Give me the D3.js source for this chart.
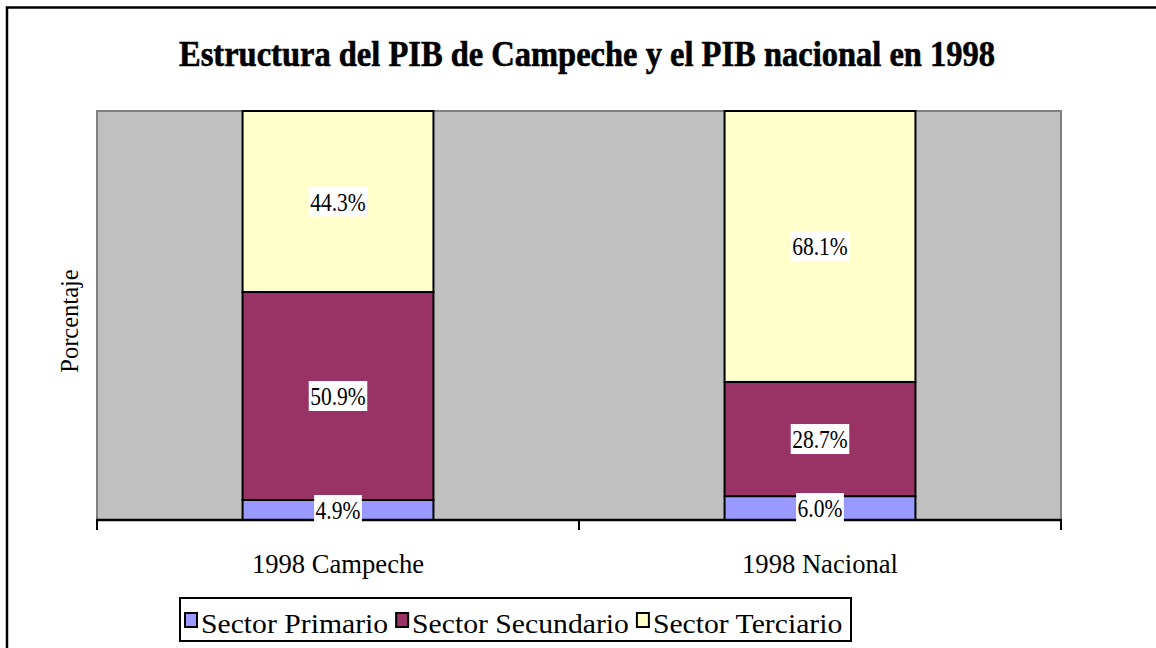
<!DOCTYPE html>
<html><head><meta charset="utf-8">
<script src="https://cdn.jsdelivr.net/npm/d3@7"></script>
<style>body{margin:0;background:#fff}svg{display:block}text{font-family:"Liberation Serif","Times New Roman",serif}</style>
</head><body><svg id="c" width="1156" height="648"></svg>
<script>
const categories = ["1998 Campeche", "1998 Nacional"];
const seriesNames = ["Sector Primario", "Sector Secundario", "Sector Terciario"];
const primario = [4.9, 6.0];
const secundario = [50.9, 28.7];
const terciario = [44.3, 68.1];
const colors = ["#9999FF", "#993366", "#FFFFCC"];
const title = "Estructura del PIB de Campeche y el PIB nacional en 1998";
const yTitle = "Porcentaje";

const rows = categories.map((c, i) => ({cat: c, "Sector Primario": primario[i], "Sector Secundario": secundario[i], "Sector Terciario": terciario[i]}));
const stack = d3.stack().keys(seriesNames).offset(d3.stackOffsetExpand)(rows);

const svg = d3.select("#c");
const L = 97, R = 1061, T = 111, B = 520;

function fit(sel, f) {
  sel.each(function(){ const w = this.getComputedTextLength(); d3.select(this).attr("textLength", w * f).attr("lengthAdjust", "spacingAndGlyphs"); });
}

// outer border
svg.append("rect").attr("x", 7).attr("y", 7.5).attr("width", 1170).attr("height", 680)
  .attr("fill", "none").attr("stroke", "#000").attr("stroke-width", 2.5);

// title
svg.append("text").attr("x", 587).attr("y", 66).attr("text-anchor", "middle")
  .attr("font-size", 35).attr("font-weight", "bold").attr("stroke", "#000").attr("stroke-width", 0.6).text(title)
  .attr("textLength", 816).attr("lengthAdjust", "spacingAndGlyphs");

const x = d3.scaleBand().domain(categories).range([L, R]).paddingInner(0.604).paddingOuter(0.302);
const y = d3.scaleLinear().domain([0, 1]).range([B, T]);

// plot area
svg.append("rect").attr("x", L).attr("y", T).attr("width", R - L).attr("height", B - T)
  .attr("fill", "#C0C0C0").attr("stroke", "#808080").attr("stroke-width", 2);

// bars
const g = svg.append("g");
stack.forEach((s, si) => {
  g.selectAll(null).data(s).join("rect")
    .attr("x", d => x(d.data.cat)).attr("width", x.bandwidth())
    .attr("y", d => y(d[1])).attr("height", d => y(d[0]) - y(d[1]))
    .attr("fill", colors[si]).attr("stroke", "#000").attr("stroke-width", 2);
});

// axis
const ax = svg.append("g").attr("transform", `translate(0,${B})`);
const xe = d3.scaleLinear().domain([0, categories.length]).range([L, R]);
ax.append("line").attr("x1", L - 1).attr("x2", R + 1).attr("stroke", "#000").attr("stroke-width", 2.5);
ax.selectAll(null).data(d3.range(categories.length + 1)).join("line")
  .attr("x1", d => xe(d)).attr("x2", d => xe(d)).attr("y1", 0).attr("y2", 10)
  .attr("stroke", "#000").attr("stroke-width", 2);
ax.selectAll(null).data(categories).join("text")
  .attr("x", d => x(d) + x.bandwidth() / 2).attr("y", 53).attr("text-anchor", "middle")
  .attr("font-size", 28).text(d => d).call(fit, 0.95);

// data labels
const lab = svg.append("g");
stack.forEach((s, si) => {
  s.forEach((d, i) => {
    const v = [primario, secundario, terciario][si][i];
    const cx = x(d.data.cat) + x.bandwidth() / 2;
    const cy = (y(d[0]) + y(d[1])) / 2;
    const gg = lab.append("g");
    const t = gg.append("text").attr("x", cx).attr("y", cy + 9).attr("text-anchor", "middle")
      .attr("font-size", 25).text(v.toFixed(1) + "%");
    fit(t, 0.86);
    const w = +t.attr("textLength");
    gg.insert("rect", "text").attr("x", cx - w / 2 - 1.5).attr("y", cy - 15).attr("width", w + 3).attr("height", 30).attr("fill", "#fff");
  });
});

// y title
svg.append("text").attr("transform", `translate(78,321) rotate(-90)`).attr("text-anchor", "middle")
  .attr("font-size", 25).text(yTitle).call(fit, 0.98);

// legend
const lg = svg.append("g");
lg.append("rect").attr("x", 180).attr("y", 598).attr("width", 671).attr("height", 43)
  .attr("fill", "#fff").attr("stroke", "#000").attr("stroke-width", 2);
let lx = 185;
seriesNames.forEach((n, i) => {
  lg.append("rect").attr("x", lx).attr("y", 613).attr("width", 12).attr("height", 14)
    .attr("fill", colors[i]).attr("stroke", "#000").attr("stroke-width", 2);
  const t = lg.append("text").attr("x", lx + 16).attr("y", 633).attr("font-size", 28).text(n).call(fit, 1.06);
  lx += 16 + (+t.attr("textLength")) + 8;
});
</script></body></html>
